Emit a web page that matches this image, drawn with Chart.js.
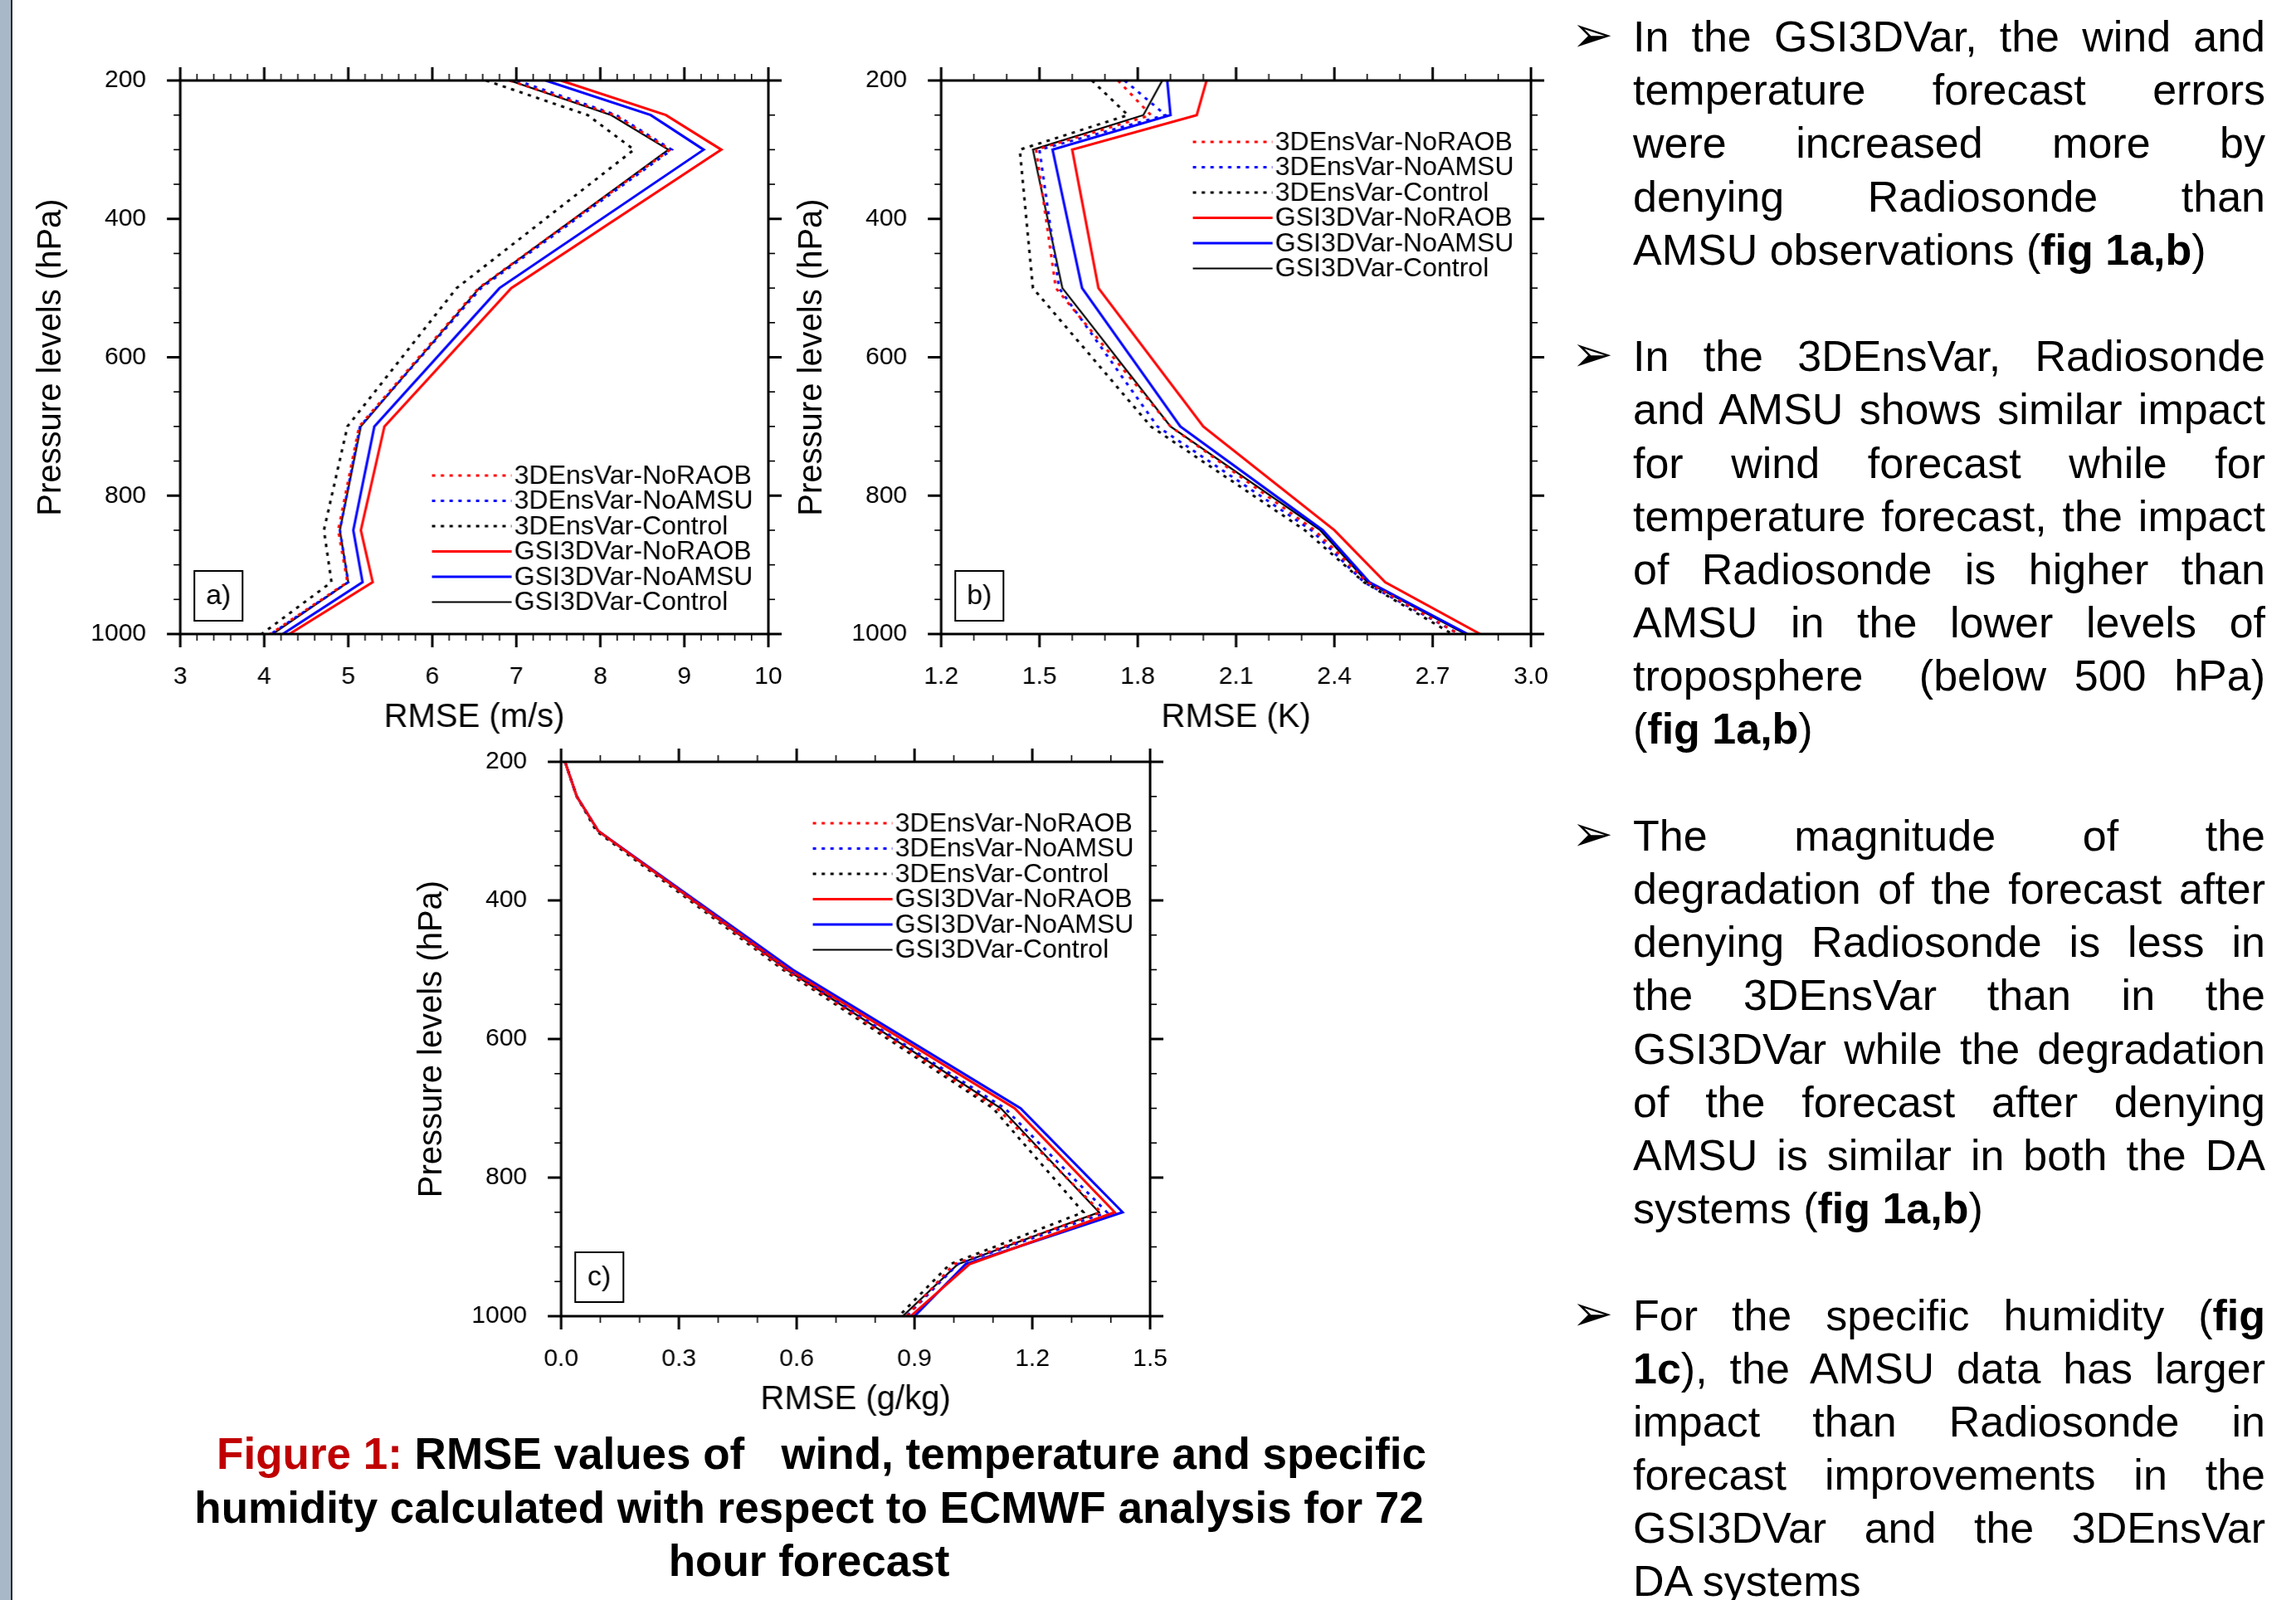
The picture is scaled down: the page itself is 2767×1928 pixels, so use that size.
<!DOCTYPE html>
<html>
<head>
<meta charset="utf-8">
<title>RMSE profiles</title>
<script src="https://cdn.jsdelivr.net/npm/chart.js@4.4.1/dist/chart.umd.min.js"></script>
<style>
  html, body { margin: 0; padding: 0; }
  body {
    width: 2767px; height: 1928px; background: #fff; position: relative; overflow: hidden;
    font-family: "Liberation Sans", Arial, Helvetica, sans-serif; color: #000;
  }
  .stripe { position: absolute; left: 0; top: 0; width: 13px; height: 1928px; background: #a9b8c8; border-right: 2px solid #2b2b2b; }
  canvas { position: absolute; }
  #caption { position: absolute; left: 0; top: 1720px; width: 1950px; text-align: center; font-weight: bold; font-size: 53px; line-height: 64.5px; white-space: pre; }
  #caption .red { color: #c00000; }
  #notes { position: absolute; left: 1968px; top: 12px; width: 762px; font-size: 52px; line-height: 64.2px; }
  #notes div { height: 64.2px; white-space: nowrap; }
  #notes .j { text-align: justify; text-align-last: justify; white-space: normal; }
  #notes .first { position: relative; }
  #notes .first::before {
    content: "\27A2"; font-family: "DejaVu Sans", sans-serif; font-size: 60px; line-height: 64.2px;
    position: absolute; left: -74px; top: -3px;
  }
</style>
</head>
<body>
<div class="stripe"></div>
<canvas id="panelA" width="942" height="847" style="left:27px; top:57px;"></canvas>
<canvas id="panelB" width="940" height="847" style="left:944px; top:57px;"></canvas>
<canvas id="panelC" width="939" height="848" style="left:486px; top:878px;"></canvas>

<div id="caption"><div style="padding-left:30px"><span class="red">Figure 1:</span> RMSE values of   wind, temperature and specific</div><div>humidity calculated with respect to ECMWF analysis for 72</div><div>hour forecast</div></div>

<div id="notes">
  <div class="j first">In the GSI3DVar, the wind and</div>
  <div class="j">temperature forecast errors</div>
  <div class="j">were increased more by</div>
  <div class="j">denying Radiosonde than</div>
  <div>AMSU observations (<b>fig 1a,b</b>)</div>
  <div></div>
  <div class="j first">In the 3DEnsVar, Radiosonde</div>
  <div class="j">and AMSU shows similar impact</div>
  <div class="j">for wind forecast while for</div>
  <div class="j">temperature forecast, the impact</div>
  <div class="j">of Radiosonde is higher than</div>
  <div class="j">AMSU in the lower levels of</div>
  <div class="j">troposphere &nbsp;(below 500 hPa)</div>
  <div>(<b>fig 1a,b</b>)</div>
  <div></div>
  <div class="j first">The magnitude of the</div>
  <div class="j">degradation of the forecast after</div>
  <div class="j">denying Radiosonde is less in</div>
  <div class="j">the 3DEnsVar than in the</div>
  <div class="j">GSI3DVar while the degradation</div>
  <div class="j">of the forecast after denying</div>
  <div class="j">AMSU is similar in both the DA</div>
  <div>systems (<b>fig 1a,b</b>)</div>
  <div></div>
  <div class="j first">For the specific humidity (<b>fig</b></div>
  <div class="j"><b>1c</b>), the AMSU data has larger</div>
  <div class="j">impact than Radiosonde in</div>
  <div class="j">forecast improvements in the</div>
  <div class="j">GSI3DVar and the 3DEnsVar</div>
  <div>DA systems</div>
</div>

<script>
// pressure levels (hPa) of every profile point
const levels = [200, 250, 300, 500, 700, 850, 925, 1000];
const seriesNames = ['3DEnsVar-NoRAOB', '3DEnsVar-NoAMSU', '3DEnsVar-Control',
                     'GSI3DVar-NoRAOB', 'GSI3DVar-NoAMSU', 'GSI3DVar-Control'];

// a) wind RMSE (m/s)
const windEnsNoRaob = [6.92, 8.17, 8.83, 6.55, 5.13, 4.88, 4.99, 4.07];
const windEnsNoAmsu = [7.01, 8.19, 8.85, 6.58, 5.14, 4.90, 5.00, 4.08];
const windEnsCtrl   = [6.64, 7.85, 8.40, 6.29, 4.99, 4.71, 4.80, 3.97];
const windGsiNoRaob = [7.53, 8.78, 9.44, 6.94, 5.43, 5.15, 5.29, 4.30];
const windGsiNoAmsu = [7.35, 8.60, 9.23, 6.80, 5.31, 5.06, 5.17, 4.22];
const windGsiCtrl   = [6.92, 8.13, 8.81, 6.56, 5.15, 4.90, 5.00, 4.10];

// b) temperature RMSE (K)
const tempEnsNoRaob = [1.74, 1.84, 1.49, 1.55, 1.90, 2.34, 2.50, 2.78];
const tempEnsNoAmsu = [1.76, 1.885, 1.50, 1.56, 1.86, 2.33, 2.49, 2.78];
const tempEnsCtrl   = [1.66, 1.77, 1.44, 1.48, 1.84, 2.31, 2.49, 2.76];
const tempGsiNoRaob = [2.01, 1.98, 1.60, 1.68, 2.00, 2.40, 2.555, 2.845];
const tempGsiNoAmsu = [1.89, 1.90, 1.54, 1.63, 1.93, 2.365, 2.507, 2.807];
const tempGsiCtrl   = [1.875, 1.817, 1.48, 1.57, 1.90, 2.357, 2.50, 2.80];

// c) specific humidity RMSE (g/kg)
const humEnsNoRaob = [0.01, 0.04, 0.095, 0.57, 1.11, 1.375, 1.00, 0.88];
const humEnsNoAmsu = [0.01, 0.04, 0.095, 0.575, 1.13, 1.39, 1.01, 0.88];
const humEnsCtrl   = [0.01, 0.04, 0.09, 0.565, 1.10, 1.33, 0.99, 0.86];
const humGsiNoRaob = [0.01, 0.04, 0.095, 0.58, 1.155, 1.41, 1.04, 0.89];
const humGsiNoAmsu = [0.01, 0.04, 0.095, 0.59, 1.17, 1.43, 1.03, 0.90];
const humGsiCtrl   = [0.01, 0.04, 0.095, 0.575, 1.12, 1.37, 1.01, 0.87];

// tick labels
const pressureTicks = [200, 400, 600, 800, 1000];
const windTicks = [3, 4, 5, 6, 7, 8, 9, 10];
const tempTicks = [1.2, 1.5, 1.8, 2.1, 2.4, 2.7, 3.0];
const humTicks  = [0.0, 0.3, 0.6, 0.9, 1.2, 1.5];

Chart.defaults.font.family = '"Liberation Sans", Arial, Helvetica, sans-serif';
Chart.defaults.color = '#000';

const lineStyles = [
  { color: '#ff0000', dash: [4, 6.6], width: 3 },
  { color: '#0000ff', dash: [4, 6.6], width: 3 },
  { color: '#000000', dash: [4, 6.6], width: 3 },
  { color: '#ff0000', dash: [], width: 3 },
  { color: '#0000ff', dash: [], width: 3 },
  { color: '#000000', dash: [], width: 2.2 }
];

// NCL-like frame: outward major/minor ticks on all four sides, legend, panel tag
const ncarFrame = {
  id: 'ncarFrame',
  afterDatasetsDraw(chart, args, o) {
    const { ctx, chartArea: a } = chart;
    const xs = chart.scales.x, ys = chart.scales.y;
    const seg = (x1, y1, x2, y2, w) => {
      ctx.lineWidth = w;
      ctx.beginPath(); ctx.moveTo(x1, y1); ctx.lineTo(x2, y2); ctx.stroke();
    };
    ctx.save();
    ctx.strokeStyle = '#000';
    ctx.fillStyle = '#000';
    ctx.lineCap = 'butt';

    const nx = Math.round((xs.max - xs.min) / o.xMinor);
    for (let i = 0; i <= nx; i++) {
      const px = xs.getPixelForValue(xs.min + i * o.xMinor);
      const major = i % o.xEvery === 0;
      const len = major ? 16 : 8, w = major ? 3 : 1.6;
      seg(px, a.bottom, px, a.bottom + len, w);
      seg(px, a.top, px, a.top - len, w);
    }
    const ny = Math.round((ys.max - ys.min) / 50);
    for (let i = 0; i <= ny; i++) {
      const py = ys.getPixelForValue(ys.min + i * 50);
      const major = i % 4 === 0;
      const len = major ? 16 : 8, w = major ? 3 : 1.6;
      seg(a.left, py, a.left - len, py, w);
      seg(a.right, py, a.right + len, py, w);
    }
    ctx.lineWidth = 3;
    ctx.strokeRect(a.left, a.top, a.right - a.left, a.bottom - a.top);

    // legend
    ctx.font = '32px "Liberation Sans", Arial, sans-serif';
    ctx.textBaseline = 'middle';
    ctx.textAlign = 'left';
    chart.data.datasets.forEach((ds, i) => {
      const y = a.top + o.legendTop + i * 30.5;
      ctx.strokeStyle = ds.borderColor;
      ctx.setLineDash(ds.borderDash);
      seg(a.left + 303, y, a.left + 399, y, ds.borderWidth);
      ctx.setLineDash([]);
      ctx.fillText(ds.label, a.left + 402, y + 1);
    });

    // panel tag
    ctx.strokeStyle = '#000';
    ctx.lineWidth = 2;
    ctx.strokeRect(a.left + 17, a.top + 591, 58, 60);
    ctx.font = '34px "Liberation Sans", Arial, sans-serif';
    ctx.textAlign = 'center';
    ctx.fillText(o.tag, a.left + 46, a.top + 622);
    ctx.restore();
  }
};

function makePanel(id, series, xMin, xMax, xTicks, decimals, xMinor, xEvery, xTitle, legendTop, tag) {
  const datasets = series.map((vals, i) => ({
    label: seriesNames[i],
    data: levels.map((p, k) => ({ x: vals[k], y: p })),
    borderColor: lineStyles[i].color,
    borderDash: lineStyles[i].dash,
    borderWidth: lineStyles[i].width,
    borderCapStyle: 'butt',
    pointRadius: 0,
    tension: 0,
    fill: false
  }));
  return new Chart(document.getElementById(id), {
    type: 'line',
    data: { datasets },
    plugins: [ncarFrame],
    options: {
      responsive: false,
      maintainAspectRatio: false,
      animation: false,
      events: [],
      layout: { padding: { top: 40, right: 40, left: 0, bottom: 0 } },
      plugins: {
        legend: { display: false },
        tooltip: { enabled: false },
        ncarFrame: { xMinor, xEvery, legendTop, tag }
      },
      scales: {
        x: {
          type: 'linear', position: 'bottom', min: xMin, max: xMax,
          afterBuildTicks: s => { s.ticks = xTicks.map(v => ({ value: v })); },
          afterFit: s => { s.height = 140; },
          grid: { display: false, drawTicks: false },
          border: { display: false },
          ticks: {
            padding: 34, autoSkip: false, maxRotation: 0,
            font: { size: 30 },
            callback: v => v.toFixed(decimals)
          },
          title: { display: true, text: xTitle, font: { size: 40 }, padding: { top: 0, bottom: 15 } }
        },
        y: {
          type: 'linear', position: 'left', reverse: true, min: 200, max: 1000,
          afterBuildTicks: s => { s.ticks = pressureTicks.map(v => ({ value: v })); },
          afterFit: s => { s.width = 190; },
          grid: { display: false, drawTicks: false },
          border: { display: false },
          ticks: { padding: 41, font: { size: 30 }, callback: v => String(v) },
          title: { display: true, text: 'Pressure levels (hPa)', font: { size: 40 }, padding: { top: 11, bottom: 0 } }
        }
      }
    }
  });
}

// size the canvas so the plot frame lands on the wanted page box
function place(chart, L, T, W, H) {
  let a = chart.chartArea;
  const w = chart.width + (W - (a.right - a.left));
  const h = chart.height + (H - (a.bottom - a.top));
  if (w !== chart.width || h !== chart.height) chart.resize(w, h);
  a = chart.chartArea;
  chart.canvas.style.left = (L - a.left) + 'px';
  chart.canvas.style.top = (T - a.top) + 'px';
}

const chartA = makePanel('panelA',
  [windEnsNoRaob, windEnsNoAmsu, windEnsCtrl, windGsiNoRaob, windGsiNoAmsu, windGsiCtrl],
  3, 10, windTicks, 0, 0.2, 5, 'RMSE (m/s)', 476, 'a)');
const chartB = makePanel('panelB',
  [tempEnsNoRaob, tempEnsNoAmsu, tempEnsCtrl, tempGsiNoRaob, tempGsiNoAmsu, tempGsiCtrl],
  1.2, 3.0, tempTicks, 1, 0.1, 3, 'RMSE (K)', 74, 'b)');
const chartC = makePanel('panelC',
  [humEnsNoRaob, humEnsNoAmsu, humEnsCtrl, humGsiNoRaob, humGsiNoAmsu, humGsiCtrl],
  0.0, 1.5, humTicks, 1, 0.1, 3, 'RMSE (g/kg)', 74, 'c)');

place(chartA, 217, 97, 708, 667);
place(chartB, 1134, 97, 710, 667);
place(chartC, 676, 918, 709, 668);
</script>
</body>
</html>
